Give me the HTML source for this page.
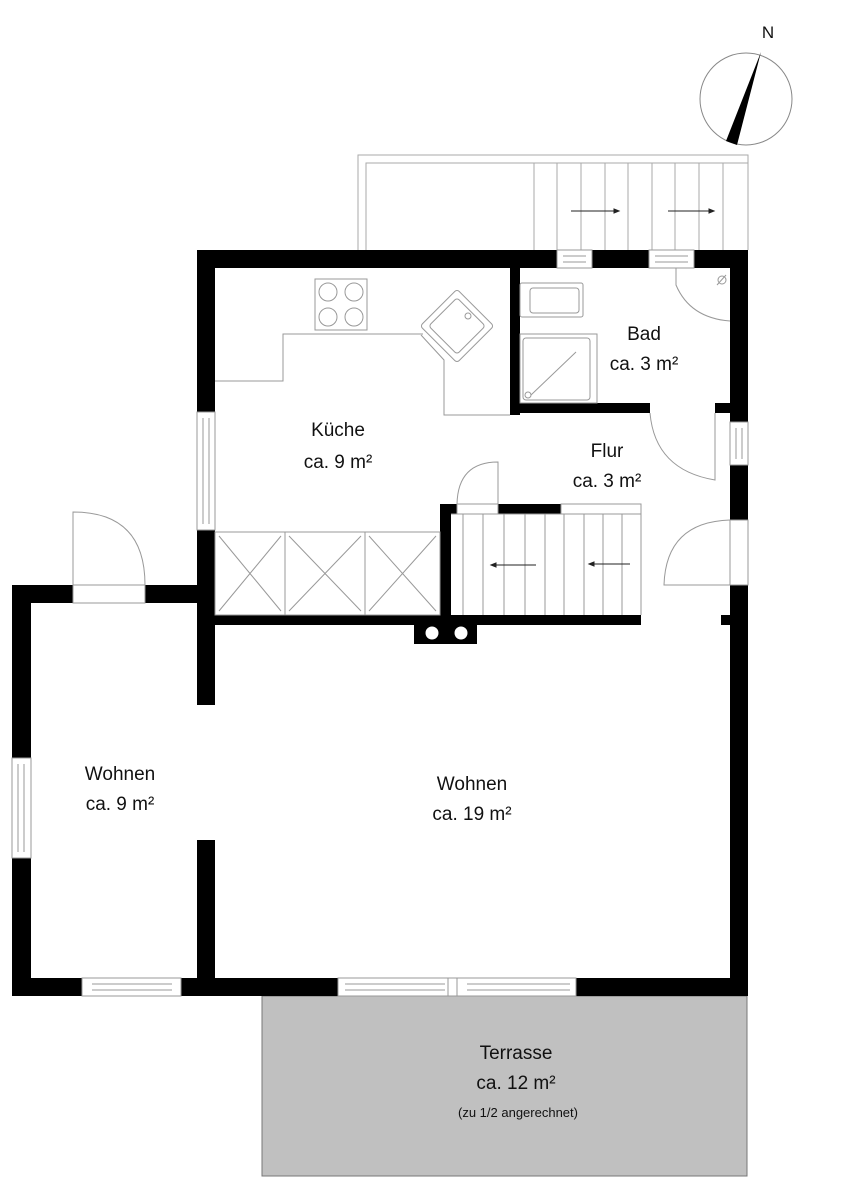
<!DOCTYPE html>
<html><head><meta charset="utf-8"><style>
html,body{margin:0;padding:0;background:#fff;}
svg{display:block;}
text{font-family:"Liberation Sans",sans-serif;fill:#111;}
</style></head><body>
<svg width="848" height="1200" viewBox="0 0 848 1200" xmlns="http://www.w3.org/2000/svg">
<rect width="848" height="1200" fill="#fff"/>
<rect x="262" y="996" width="485" height="180" fill="#c0c0c0" stroke="#777" stroke-width="1"/>
<g fill="none" stroke="#aaa" stroke-width="1">
<path d="M358 250 V155 H748 V250"/>
<path d="M366 250 V163 H748"/>
<path d="M534 163V250M557 163V250M581 163V250M605 163V250M628 163V250M652 163V250M675 163V250M699 163V250M723 163V250M748 155V250"/>
</g>
<g stroke="#222" stroke-width="1" fill="#222">
<line x1="571" y1="211" x2="615" y2="211"/><path d="M619 211 l-5 -2 v4z"/>
<line x1="668" y1="211" x2="710" y2="211"/><path d="M714 211 l-5 -2 v4z"/>
</g>
<circle cx="746" cy="99" r="46" fill="none" stroke="#888" stroke-width="1"/>
<path d="M761 52 L737 145 L726 141 Z" fill="#000"/>
<text x="768" y="38" font-size="17" text-anchor="middle">N</text>
<g fill="#000">
<rect x="197" y="250" width="551" height="18"/>
<rect x="197" y="250" width="18" height="355"/>
<rect x="197" y="605" width="18" height="100"/>
<rect x="197" y="840" width="18" height="156"/>
<rect x="12" y="585" width="203" height="18"/>
<rect x="12" y="585" width="19" height="411"/>
<rect x="12" y="978" width="735" height="18"/>
<rect x="730" y="250" width="18" height="746"/>
<rect x="721" y="615" width="10" height="10"/>
<rect x="510" y="250" width="10" height="165"/>
<rect x="510" y="403" width="140" height="10"/>
<rect x="715" y="403" width="15" height="10"/>
<rect x="215" y="615" width="426" height="10"/>
<rect x="440" y="504" width="11" height="121"/>
<rect x="440" y="504" width="17" height="10"/>
<rect x="498" y="504" width="63" height="10"/>
<rect x="414" y="625" width="63" height="19"/>
</g>
<circle cx="432" cy="633" r="6.5" fill="#fff"/><circle cx="461" cy="633" r="6.5" fill="#fff"/>
<g fill="#fff" stroke="#999" stroke-width="1">
<rect x="557" y="250" width="35" height="18"/>
<rect x="649" y="250" width="45" height="18"/>
<rect x="197" y="412" width="18" height="118"/>
<rect x="730" y="422" width="18" height="43"/>
<rect x="730" y="520" width="18" height="65"/>
<rect x="12" y="758" width="19" height="100"/>
<rect x="73" y="585" width="72" height="18"/>
<rect x="82" y="978" width="99" height="18"/>
<rect x="338" y="978" width="238" height="18"/>
<rect x="457" y="504" width="41" height="10"/>
<rect x="561" y="504" width="80" height="10"/>
</g>
<g fill="none" stroke="#999" stroke-width="1">
<path d="M563 256H586M563 262H586M655 256H688M655 262H688"/>
<path d="M203 418V524M209 418V524M736 428V459M742 428V459"/>
<path d="M18 764V852M24 764V852"/>
<path d="M92 984H172M92 990H172M345 984H445M345 990H445M448 978V996M457 978V996M467 984H570M467 990H570"/>
</g>
<g fill="none" stroke="#999" stroke-width="1">
<path d="M73 585V512Q145 512 145 585"/>
<path d="M676 268V285Q690 318 730 321"/>
<path d="M650 413Q655 470 715 480V413"/>
<path d="M730 585H664Q666 522 730 520"/>
<path d="M457 504Q458 462 498 462V504"/>
</g>
<g fill="none" stroke="#999" stroke-width="1">
<path d="M215 381H283V334H423"/>
<path d="M421 335L444 360V415H510"/>
<rect x="315" y="279" width="52" height="51"/>
<circle cx="328" cy="292" r="9"/><circle cx="354" cy="292" r="9"/><circle cx="328" cy="317" r="9"/><circle cx="354" cy="317" r="9"/>
<g transform="translate(457 326) rotate(45)"><rect x="-26" y="-26" width="52" height="52" rx="3"/><rect x="-20" y="-20" width="40" height="40" rx="3"/></g>
<circle cx="468" cy="316" r="3"/>
<rect x="215" y="532" width="225" height="83"/>
<path d="M285 532V615M365 532V615"/>
<path d="M219 536L281 611M281 536L219 611M289 536L361 611M361 536L289 611M369 536L436 611M436 536L369 611"/>
<rect x="520" y="283" width="63" height="34" rx="2"/>
<rect x="530" y="288" width="49" height="25" rx="3"/>
<rect x="520" y="334" width="77" height="69"/>
<rect x="523" y="338" width="67" height="62" rx="3"/>
<path d="M531 395L576 352"/>
<circle cx="528" cy="395" r="3"/>
<path d="M717 285L726 275"/><circle cx="722" cy="280" r="4"/>
<path d="M451 514H641V615M463 514V615M483 514V615M504 514V615M525 514V615M545 514V615M564 514V615M584 514V615M603 514V615M622 514V615"/>
</g>
<g stroke="#222" stroke-width="1" fill="#222">
<line x1="536" y1="565" x2="495" y2="565"/><path d="M491 565 l5 -2 v4z"/>
<line x1="630" y1="564" x2="593" y2="564"/><path d="M589 564 l5 -2 v4z"/>
</g>
<g font-size="19" text-anchor="middle">
<text x="338" y="436">Küche</text><text x="338" y="468">ca. 9 m²</text>
<text x="644" y="340">Bad</text><text x="644" y="370">ca. 3 m²</text>
<text x="607" y="457">Flur</text><text x="607" y="487">ca. 3 m²</text>
<text x="120" y="780">Wohnen</text><text x="120" y="810">ca. 9 m²</text>
<text x="472" y="790">Wohnen</text><text x="472" y="820">ca. 19 m²</text>
<text x="516" y="1059">Terrasse</text><text x="516" y="1089">ca. 12 m²</text>
<text x="518" y="1117" font-size="13">(zu 1/2 angerechnet)</text>
</g>
</svg>
</body></html>
